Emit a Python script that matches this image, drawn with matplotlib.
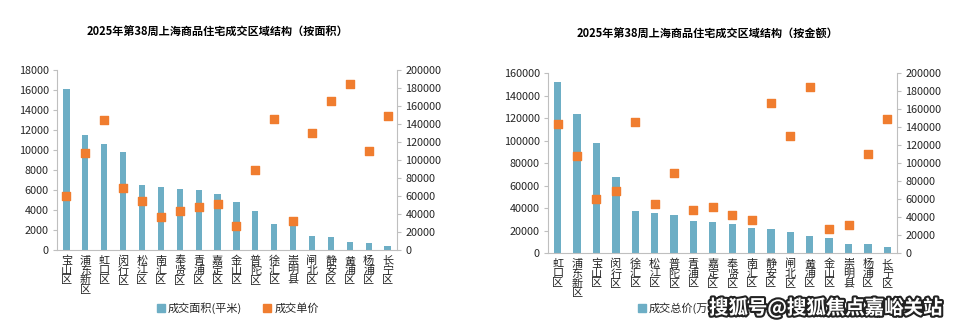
import matplotlib.pyplot as plt
import matplotlib.patheffects as pe
from matplotlib.lines import Line2D

plt.rcParams['font.family'] = ['Noto Sans CJK SC', 'DejaVu Sans']

# chart 1: by area
districts_area = ['宝山区', '浦东新区', '虹口区', '闵行区', '松江区', '南汇区', '奉贤区', '青浦区', '嘉定区',
                  '金山区', '普陀区', '徐汇区', '崇明县', '闸北区', '静安区', '黄浦区', '杨浦区', '长宁区']
area = [16100, 11500, 10570, 9800, 6470, 6300, 6070, 6000, 5600,
        4770, 3870, 2570, 2500, 1400, 1300, 770, 670, 370]
price_area = [60000, 108100, 144100, 69300, 54400, 36300, 43000, 48100, 51100,
              27000, 88900, 145600, 32200, 130400, 165900, 184800, 110300, 148500]

# chart 2: by amount
districts_amt = ['虹口区', '浦东新区', '宝山区', '闵行区', '徐汇区', '松江区', '普陀区', '青浦区', '嘉定区',
                 '奉贤区', '南汇区', '静安区', '闸北区', '黄浦区', '金山区', '崇明县', '杨浦区', '长宁区']
amount = [152500, 123800, 97800, 67500, 37300, 35500, 34300, 29000, 28100,
          25800, 22500, 22000, 18900, 15100, 13300, 8000, 8000, 5900]
price_amt = [143700, 108400, 60000, 69200, 145500, 54800, 88900, 48100, 51800,
             42900, 36700, 166700, 130300, 184800, 26700, 31400, 110300, 148900]

bar_c = '#6DAEC5'
dot_c = '#F07D2F'
grey = '#BFBFBF'
txt_c = '#262626'
W, H = 960, 333


def px(x0, y0, x1, y1):
    return [x0 / W, 1 - y1 / H, (x1 - x0) / W, (y1 - y0) / H]


def draw(rect, names, bars, prices, ymax, ystep, bw, title, tx, ty):
    ax = fig.add_axes(rect)
    x = range(len(names))
    ax.bar(x, bars, width=bw, color=bar_c, zorder=2)
    ax.set_xlim(-0.5, len(names) - 0.5)
    ax.set_ylim(0, ymax)
    ax.set_yticks(range(0, ymax + 1, ystep))
    ax.set_xticks(list(x))
    ax.set_xticklabels(['\n'.join(n) for n in names], fontsize=8, linespacing=0.95,
                       va='top', color=txt_c)
    ax.tick_params(axis='x', length=0, pad=4)
    ax.tick_params(axis='y', labelsize=7.8, labelcolor=txt_c, length=3, color=grey, pad=3)
    for s in ['top', 'right']:
        ax.spines[s].set_visible(False)
    for s in ['left', 'bottom']:
        ax.spines[s].set_color(grey)
    ax2 = ax.twinx()
    ax2.scatter(x, prices, marker='s', s=40, color=dot_c, zorder=3)
    ax2.set_ylim(0, 200000)
    ax2.set_yticks(range(0, 200001, 20000))
    ax2.tick_params(axis='y', labelsize=7.8, labelcolor=txt_c, length=3, color=grey, pad=3)
    for s in ['top', 'left', 'bottom']:
        ax2.spines[s].set_visible(False)
    ax2.spines['right'].set_color(grey)
    fig.text(tx / W, 1 - ty / H, title, ha='center', va='center', fontsize=8, fontweight='bold')
    return ax


fig = plt.figure(figsize=(9.6, 3.33), dpi=100)

draw(px(57, 70, 397, 250), districts_area, area, price_area, 18000, 2000, 0.33,
     '2025年第38周上海商品住宅成交区域结构（按面积）', 217, 32)
draw(px(548, 73.3, 897, 253.3), districts_amt, amount, price_amt, 160000, 20000, 0.38,
     '2025年第38周上海商品住宅成交区域结构（按金额）', 707, 34)

sq_b = Line2D([], [], marker='s', ls='', color=bar_c, markersize=6)
sq_o = Line2D([], [], marker='s', ls='', color=dot_c, markersize=6)
fig.legend([sq_b, sq_o], ['成交面积(平米)', '成交单价'], loc='center', ncol=2,
           bbox_to_anchor=(237 / W, 1 - 308 / H), frameon=False, fontsize=8,
           labelcolor=txt_c, handletextpad=0.1, columnspacing=1.8, handlelength=1.0)
# right legend: the rest of it is hidden under the site watermark
fig.legend([sq_b], ['成交总价(万'], loc='center left',
           bbox_to_anchor=(636 / W, 1 - 308 / H), frameon=False, fontsize=8,
           labelcolor=txt_c, handletextpad=0.1, handlelength=1.0, borderpad=0, borderaxespad=0)

# site watermark in the bottom right corner
fig.text(709 / W, 1 - 308 / H, '搜狐号@搜狐焦点嘉峪关站', ha='left', va='center', fontsize=14,
         fontweight='bold', color='white', zorder=10,
         path_effects=[pe.withStroke(linewidth=3, foreground='#222222')])

plt.savefig('out.png', dpi=100)
